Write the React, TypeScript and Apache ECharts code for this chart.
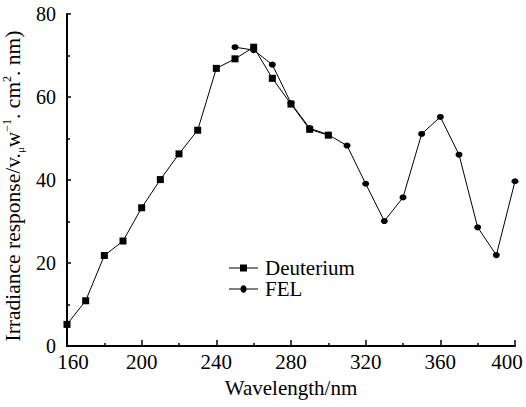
import React, { useEffect, useRef } from "react";
import * as echarts from "echarts";

const deutWavelengths = [160, 170, 180, 190, 200, 210, 220, 230, 240, 250, 260, 270, 280, 290, 300];
const deutValues = [5.2, 10.9, 21.8, 25.3, 33.3, 40.1, 46.3, 52.0, 66.9, 69.2, 72.0, 64.5, 58.3, 52.2, 50.8];
const felWavelengths = [250, 260, 270, 280, 290, 300, 310, 320, 330, 340, 350, 360, 370, 380, 390, 400];
const felValues = [72.0, 71.3, 67.8, 58.5, 52.5, 50.9, 48.3, 39.1, 30.1, 35.8, 51.1, 55.2, 46.1, 28.6, 21.9, 39.7];
const legendNames = ["Deuterium", "FEL"];

const FONT = "Liberation Serif";

export default function App() {
  const ref = useRef<HTMLDivElement>(null);
  useEffect(() => {
    if (!ref.current) return;
    const chart = echarts.init(ref.current, null, { renderer: "svg" });
    const lx = 229;
    const lw = 29;
    const ly = [268, 289];
    const legendGraphic: any[] = [];
    legendNames.forEach((name, i) => {
      legendGraphic.push({
        type: "line",
        shape: { x1: lx, y1: ly[i], x2: lx + lw, y2: ly[i] },
        style: { stroke: "#000", lineWidth: 1 },
        silent: true,
      });
      if (i === 0) {
        legendGraphic.push({
          type: "rect",
          shape: { x: lx + lw / 2 - 3.5, y: ly[i] - 3.5, width: 7, height: 7 },
          style: { fill: "#000" },
          silent: true,
        });
      } else {
        legendGraphic.push({
          type: "ellipse",
          shape: { cx: lx + lw / 2, cy: ly[i], rx: 3, ry: 3.8 },
          style: { fill: "#000" },
          silent: true,
        });
      }
      legendGraphic.push({
        type: "text",
        x: 265,
        y: ly[i],
        style: {
          text: name,
          font: "21px 'Liberation Serif', 'Times New Roman', serif",
          fontFamily: FONT,
          fontSize: 21,
          fill: "#000",
          verticalAlign: "middle",
          align: "left",
        },
        silent: true,
      });
    });
    chart.setOption({
      animation: false,
      backgroundColor: "#ffffff",
      textStyle: { fontFamily: FONT, color: "#000" },
      grid: { left: 67, right: 11, top: 14, bottom: 61, outerBoundsMode: "none", containLabel: false },
      graphic: legendGraphic,
      xAxis: {
        type: "value",
        min: 160,
        max: 400,
        interval: 40,
        name: "Wavelength/nm",
        nameLocation: "middle",
        nameGap: 31,
        nameTextStyle: { fontFamily: FONT, fontSize: 21, color: "#000" },
        axisLine: { show: true, lineStyle: { color: "#000", width: 2 } },
        axisTick: { show: true, inside: true, length: 6, lineStyle: { color: "#000", width: 1.5 } },
        minorTick: { show: true, splitNumber: 2, length: 3, lineStyle: { color: "#000", width: 1.5 } },
        axisLabel: {
          fontFamily: FONT,
          fontSize: 21,
          color: "#000",
          margin: 5,
          formatter: (v: number) => (v === 160 ? "{l|" + v + "}" : v === 400 ? "{r|" + v + "}" : "{n|" + v + "}"),
          rich: {
            n: { fontFamily: FONT, fontSize: 21, color: "#000" },
            l: { fontFamily: FONT, fontSize: 21, color: "#000", padding: [0, 0, 0, 12] },
            r: { fontFamily: FONT, fontSize: 21, color: "#000", padding: [0, 16, 0, 0] },
          },
        },
        splitLine: { show: false },
        minorSplitLine: { show: false },
      },
      yAxis: {
        type: "value",
        min: 0,
        max: 80,
        interval: 20,
        name: "Irradiance response/v.{sub|μ}w{sup|−1}. cm{sup|2}. nm)",
        nameLocation: "middle",
        nameGap: 34,
        nameRotate: 90,
        nameTextStyle: {
          fontFamily: FONT,
          fontSize: 21.5,
          color: "#000",
          padding: [0, 12, 0, 0],
          rich: {
            sub: { fontFamily: FONT, fontSize: 11, color: "#000", verticalAlign: "bottom", lineHeight: 24 },
            sup: { fontFamily: FONT, fontSize: 12, color: "#000", verticalAlign: "top", lineHeight: 24 },
          },
        },
        axisLine: { show: true, lineStyle: { color: "#000", width: 2 } },
        axisTick: { show: true, inside: true, length: 4, lineStyle: { color: "#000", width: 1.5 } },
        minorTick: { show: true, splitNumber: 2, length: 3, lineStyle: { color: "#000", width: 1.5 } },
        axisLabel: { fontFamily: FONT, fontSize: 20, color: "#000", margin: 11 },
        splitLine: { show: false },
        minorSplitLine: { show: false },
      },
      series: [
        {
          name: "Deuterium",
          type: "line",
          data: deutWavelengths.map((w, i) => [w, deutValues[i]]),
          symbol: "rect",
          symbolSize: 7,
          showAllSymbol: true,
          lineStyle: { color: "#000", width: 1 },
          itemStyle: { color: "#000" },
          clip: false,
          z: 3,
        },
        {
          name: "FEL",
          type: "line",
          data: felWavelengths.map((w, i) => [w, felValues[i]]),
          symbol: "circle",
          symbolSize: [7, 6],
          showAllSymbol: true,
          lineStyle: { color: "#000", width: 1 },
          itemStyle: { color: "#000" },
          clip: false,
          z: 2,
        },
      ],
    });
    return () => chart.dispose();
  }, []);
  return (
    <div
      ref={ref}
      style={{ position: "fixed", left: 0, top: 0, width: 526, height: 407, background: "#fff" }}
    />
  );
}
